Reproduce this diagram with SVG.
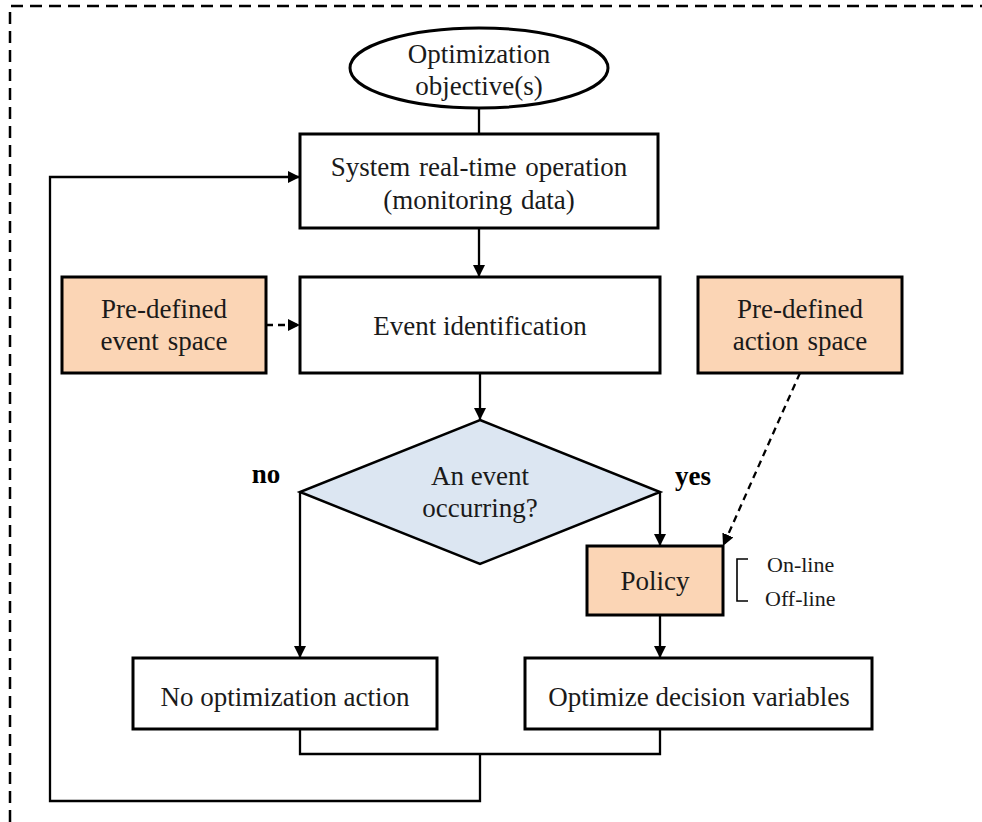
<svg xmlns="http://www.w3.org/2000/svg" width="982" height="822" viewBox="0 0 982 822">
  <style>
    .box { fill: #ffffff; stroke: #000; stroke-width: 3; }
    .peach { fill: #FBD5B5; stroke: #000; stroke-width: 3; }
    .dia { fill: #DCE6F2; stroke: #000; stroke-width: 2.5; }
    .wire { fill: none; stroke: #000; stroke-width: 2.3; }
    .dash { fill: none; stroke: #000; stroke-width: 2.3; stroke-dasharray: 7 5; }
    .frame { fill: none; stroke: #000; stroke-width: 2.5; stroke-dasharray: 12 7; }
    text { font-family: "Liberation Serif", "Times New Roman", serif; font-size: 27px; fill: #1a1a1a; text-anchor: middle; }
    .bold { font-weight: bold; fill: #000; }
    .small { font-size: 22px; text-anchor: start; }
  </style>
  <defs>
    <marker id="arrow" markerUnits="userSpaceOnUse" markerWidth="12" markerHeight="12" viewBox="0 0 12 12" refX="12" refY="6" orient="auto">
      <path d="M0,0 L12,6 L0,12 Z" fill="#000"/>
    </marker>
  </defs>

  <!-- outer dashed frame -->
  <path class="frame" d="M10,822 V6 H982"/>

  <!-- connectors -->
  <g id="connectors">
    <path class="wire" d="M479,108 V134"/>
    <path class="wire" d="M479,228 V277" marker-end="url(#arrow)"/>
    <path class="dash" d="M266,325 H300" marker-end="url(#arrow)"/>
    <path class="wire" d="M480,373 V420" marker-end="url(#arrow)"/>
    <path class="dash" d="M800,373 L723,546" marker-end="url(#arrow)"/>
    <path class="wire" d="M660,492 V546" marker-end="url(#arrow)"/>
    <path class="wire" d="M300,492 V658" marker-end="url(#arrow)"/>
    <path class="wire" d="M660,615 V658" marker-end="url(#arrow)"/>
    <path class="wire" d="M300,729 V754 H660 V729"/>
    <path class="wire" d="M480,754 V801 H50 V177 H300" marker-end="url(#arrow)"/>
  </g>

  <g id="objective">
    <ellipse cx="479" cy="68" rx="129" ry="40" fill="#fff" stroke="#000" stroke-width="3"/>
    <text x="479" y="63">Optimization</text>
    <text x="479" y="95">objective(s)</text>
  </g>

  <g id="operation">
    <rect class="box" x="300" y="134" width="358" height="94"/>
    <text x="479" y="176" word-spacing="2">System real-time operation</text>
    <text x="479" y="209" word-spacing="2">(monitoring data)</text>
  </g>

  <g id="event-space">
    <rect class="peach" x="62" y="277" width="204" height="96"/>
    <text x="164" y="318">Pre-defined</text>
    <text x="164" y="350" word-spacing="2">event space</text>
  </g>

  <g id="event-identification">
    <rect class="box" x="300" y="277" width="360" height="96"/>
    <text x="480" y="335">Event identification</text>
  </g>

  <g id="action-space">
    <rect class="peach" x="698" y="277" width="204" height="96"/>
    <text x="800" y="318">Pre-defined</text>
    <text x="800" y="350" word-spacing="2">action space</text>
  </g>

  <g id="decision">
    <polygon class="dia" points="480,420 660,492 480,564 300,492"/>
    <text x="480" y="485">An event</text>
    <text x="480" y="517">occurring?</text>
    <text class="bold" x="266" y="483">no</text>
    <text class="bold" x="693" y="485">yes</text>
  </g>

  <g id="policy">
    <rect class="peach" x="587" y="546" width="136" height="69"/>
    <text x="655" y="590">Policy</text>
    <path d="M748,559 H737 V601 H748" fill="none" stroke="#000" stroke-width="1.6"/>
    <text class="small" x="767" y="572">On-line</text>
    <text class="small" x="765" y="606">Off-line</text>
  </g>

  <g id="no-action">
    <rect class="box" x="133" y="658" width="304" height="71"/>
    <text x="285" y="706">No optimization action</text>
  </g>

  <g id="optimize">
    <rect class="box" x="525" y="658" width="347" height="71"/>
    <text x="699" y="706">Optimize decision variables</text>
  </g>
</svg>
